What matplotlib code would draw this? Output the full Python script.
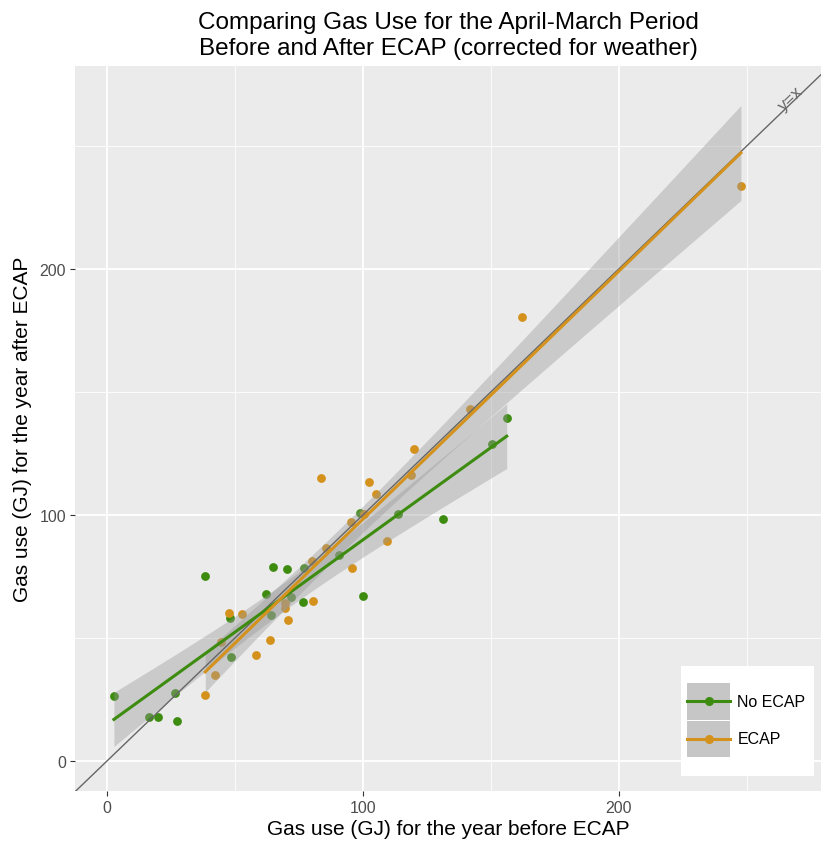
import numpy as np
import matplotlib
matplotlib.use("Agg")
import matplotlib.pyplot as plt
from matplotlib.lines import Line2D
from matplotlib.patches import Patch, Rectangle
from matplotlib.legend_handler import HandlerLine2D

plt.rcParams['font.family'] = ['Liberation Sans', 'DejaVu Sans']

# values
no_ecap_before = [2.7, 16.5, 20.0, 26.6, 27.5, 38.4, 48.0, 48.4, 62.0, 64.0, 65.0,
                  70.2, 71.9, 76.6, 76.9, 90.5, 98.8, 100.0, 113.8, 131.3, 150.4, 156.2]
no_ecap_after = [26.3, 18.0, 18.0, 27.6, 16.4, 75.3, 58.0, 42.2, 67.9, 59.3, 79.0,
                 78.0, 66.7, 64.6, 78.3, 83.6, 100.6, 67.0, 100.4, 98.4, 129.0, 139.5]

ecap_before = [38.4, 42.2, 44.4, 47.8, 52.6, 58.4, 63.7, 69.7, 69.5, 70.8, 80.0, 80.6,
               83.6, 85.5, 95.3, 95.6, 100.5, 102.2, 105.1, 109.6, 118.6, 120.0,
               141.8, 162.0, 247.7]
ecap_after = [26.8, 35.1, 48.2, 60.2, 59.8, 43.1, 49.0, 62.0, 64.4, 57.4, 81.2, 65.2,
              115.2, 86.4, 97.0, 78.5, 100.5, 113.3, 108.4, 89.6, 116.3, 127.0,
              143.0, 180.4, 233.7]

groups = ["No ECAP", "ECAP"]
colors = {"No ECAP": "#3d8c10", "ECAP": "#d4921c"}
t_crit = {"No ECAP": 2.086, "ECAP": 2.069}   # 95% t quantiles, df = n - 2

x_ticks = [0, 100, 200]
y_ticks = [0, 100, 200]


def lm_band(x, y, t):
    """Linear fit with 95% confidence band, like geom_smooth(method='lm')"""
    x = np.asarray(x)
    y = np.asarray(y)
    n = len(x)
    b, a = np.polyfit(x, y, 1)
    resid = y - (a + b * x)
    s = np.sqrt(np.sum(resid ** 2) / (n - 2))
    xs = np.linspace(x.min(), x.max(), 80)
    fit = a + b * xs
    se = s * np.sqrt(1.0 / n + (xs - x.mean()) ** 2 / np.sum((x - x.mean()) ** 2))
    return xs, fit, fit - t * se, fit + t * se


class CenteredLine(HandlerLine2D):
    """Put the legend line in the middle of the key box"""
    def create_artists(self, legend, orig_handle, xdescent, ydescent,
                       width, height, fontsize, trans):
        return super().create_artists(legend, orig_handle, xdescent, ydescent,
                                      width, height - ydescent, fontsize, trans)


fig = plt.figure(figsize=(8.21, 8.45), dpi=100)
ax = fig.add_axes([75 / 821, 53 / 845, 746 / 821, 725 / 845])
ax.set_facecolor('#EBEBEB')

data = {"No ECAP": (no_ecap_before, no_ecap_after),
        "ECAP": (ecap_before, ecap_after)}

for g in groups:
    xb, ya = data[g]
    ax.scatter(xb, ya, s=40, color=colors[g], zorder=2, linewidths=0)

for g in groups:
    xb, ya = data[g]
    xs, fit, lo, hi = lm_band(xb, ya, t_crit[g])
    ax.fill_between(xs, lo, hi, color='#999999', alpha=0.4, linewidth=0, zorder=3)
    ax.plot(xs, fit, color=colors[g], linewidth=2.2, zorder=5)

# y = x reference line
ax.axline((0, 0), slope=1, color='#666666', linewidth=1.0, zorder=4)
ax.text(267, 269.5, "y=x", rotation=44, color='#666666', fontsize=12.5,
        ha='center', va='center', zorder=6)

ax.set_xlim(-12.5, 279)
ax.set_ylim(-12.2, 282.5)
ax.set_xticks(x_ticks)
ax.set_yticks(y_ticks)
ax.set_xticks([50, 150, 250], minor=True)
ax.set_yticks([50, 150, 250], minor=True)
ax.grid(which='major', color='white', linewidth=1.3)
ax.grid(which='minor', color='white', linewidth=0.6)
ax.set_axisbelow(True)
for sp in ax.spines.values():
    sp.set_visible(False)
ax.tick_params(which='major', length=3.5, color='#333333', labelcolor='#4D4D4D',
               labelsize=11.5, pad=3)
ax.tick_params(which='minor', length=0)

ax.set_xlabel("Gas use (GJ) for the year before ECAP", fontsize=15, labelpad=3)
ax.set_ylabel("Gas use (GJ) for the year after ECAP", fontsize=15, labelpad=5)
ax.set_title("Comparing Gas Use for the April-March Period\n"
             "Before and After ECAP (corrected for weather)",
             fontsize=17.5, pad=9)

# legend: white box like ggplot's, keys with ribbon-grey background
ax.add_patch(Rectangle((0.8123, 0.0207), 0.1783, 0.1517, transform=ax.transAxes,
                       facecolor='white', edgecolor='none', zorder=7))
handles = []
for g in groups:
    key_bg = Patch(facecolor='#C6C6C6', edgecolor='none')
    key_line = Line2D([], [], color=colors[g], linewidth=2.2, marker='o', markersize=5.5)
    handles.append((key_bg, key_line))
leg = ax.legend(handles, groups, loc='upper left', bbox_to_anchor=(0.8204, 0.149),
                borderaxespad=0, frameon=False, fontsize=11.5,
                handlelength=2.7, handleheight=3.15, labelspacing=0.06,
                handletextpad=0.45, borderpad=0,
                handler_map={Line2D: CenteredLine()})
leg.set_zorder(8)

fig.savefig("out.png", dpi=100)
